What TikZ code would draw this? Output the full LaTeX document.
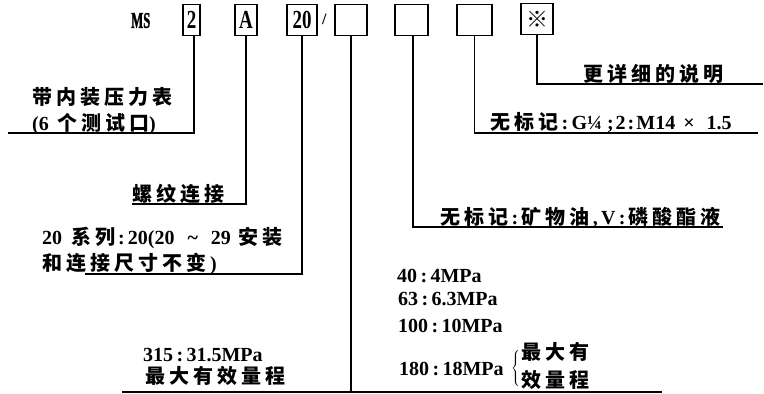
\documentclass[tikz,border=0pt]{standalone}
\usepackage{fontspec}
\usepackage{graphicx}
\setmainfont{Liberation Serif}
\newfontfamily\cjk[LetterSpace=20]{Noto Sans CJK SC}
\newfontfamily\heavyfont[FakeBold=1.5]{Liberation Serif Bold}
\tikzset{
  codebox/.style={draw, line width=1.6pt, minimum height=31pt, inner sep=0pt, font=\fontsize{20}{20}\selectfont\bfseries},
  lbl/.style={anchor=west, inner sep=0pt, font=\fontsize{20}{20}\selectfont\bfseries},
  ln/.style={line width=1.3pt}
}
\newcommand{\tallchar}[1]{\scalebox{0.95}[1.3]{#1}}
\begin{document}
\begin{tikzpicture}[x=1pt,y=-1pt]
\useasboundingbox (0,0) rectangle (764,394);
% code row
\node[anchor=west, inner sep=0pt, font=\fontsize{15}{15}\selectfont\heavyfont] (ms) at (131,20.5) {\scalebox{0.85}[1.5]{MS}};
\node[codebox, minimum width=17pt] (b1) at (191.5,20) {\tallchar{2}};
\node[codebox, minimum width=22pt] (b2) at (246,20) {\tallchar{A}};
\node[codebox, minimum width=30pt] (b3) at (302,20) {\tallchar{20}};
\node[lbl, font=\fontsize{16}{16}\selectfont\bfseries] (sl) at (322,19) {/};
\node[codebox, minimum width=32pt] (b4) at (351,20) {};
\node[codebox, minimum width=33pt] (b5) at (411.5,20) {};
\node[codebox, minimum width=35pt] (b6) at (474.5,20) {};
\node[codebox, minimum width=32pt] (b7) at (537,19) {\fontsize{22}{22}\selectfont\cjk ※};
% labels
\node[lbl] (t1a) at (32,97) {\cjk 带内装压力表};
\node[lbl] (t1b) at (32,124) {(6\, \cjk 个测试口\rmfamily)};
\node[lbl] (t2) at (132,194) {\cjk 螺纹连接};
\node[lbl] (t3a) at (42,238) {20\hspace{9pt}{\cjk 系列}\hspace{3pt}:\hspace{3pt}20(20\hspace{13pt}\textasciitilde\hspace{13pt}29\hspace{8pt}{\cjk 安装}};
\node[lbl] (t3b) at (42,264) {\cjk 和连接尺寸不变\rmfamily\hspace{4pt})};
\node[lbl] (t5) at (440,217) {{\cjk 无标记}\,:\,{\cjk 矿物油}\,,\,V\,:\,{\cjk 磷酸酯液}};
\node[lbl] (t6) at (490,122) {{\cjk 无标记}\,:\,G¼\hspace{5pt};\hspace{2pt}2\hspace{2pt}:\hspace{2pt}M14\hspace{8pt}×\hspace{12pt}1.5};
\node[lbl] (t7) at (583,74) {\cjk 更详细的说明};
% pressures
\node[lbl] (p1) at (397,276) {40\,:\,4MPa};
\node[lbl] (p2) at (398,299) {63\,:\,6.3MPa};
\node[lbl] (p3) at (398,326) {100\,:\,10MPa};
\node[lbl] (p4) at (399,369) {180\,:\,18MPa};
\node[lbl] (p5) at (511,368) {$\left\{\rule{0pt}{23pt}\right.\hspace{-\nulldelimiterspace}$\hspace{1pt}{\def\arraystretch{1.4}\begin{tabular}[c]{@{}l@{}}\cjk 最大有\\\cjk 效量程\end{tabular}}};
\node[lbl] (q1) at (143,355) {315\,:\,31.5MPa};
\node[lbl] (q2) at (145,376) {\cjk 最大有效量程};
% connectors
\coordinate (c1) at (8,133);
\coordinate (c2) at (132,204);
\coordinate (c3) at (85,274);
\coordinate (bl) at (122,392);
\coordinate (brr) at (662,392);
\coordinate (c5) at (723,227);
\coordinate (c6) at (758,133);
\coordinate (c7) at (763,84);
\draw[ln] ([xshift=2.5pt]b1.south) |- (c1);
\draw[ln] (b2.south) |- (c2);
\draw[ln] (b3.south) |- (c3);
\draw[ln] (bl) -- (brr);
\draw[ln] (b4.south) -- (b4.south |- bl);
\draw[ln] ([xshift=1.5pt]b5.south) |- (c5);
\draw[ln] (b6.south) |- (c6);
\draw[ln] (b7.south) |- (c7);
\end{tikzpicture}
\end{document}
